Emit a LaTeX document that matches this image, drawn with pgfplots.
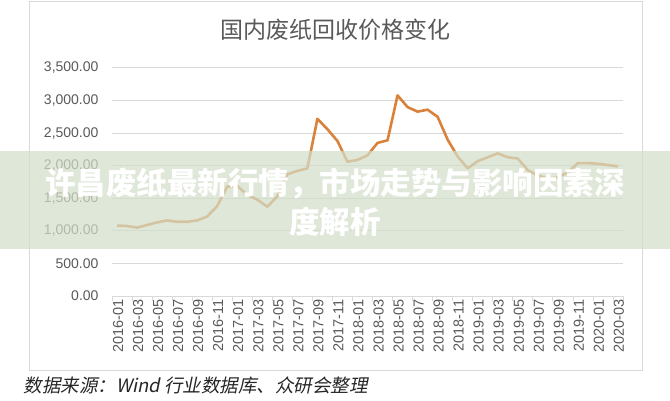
\documentclass[border=0pt]{standalone}
\usepackage{pgfplots}
\pgfplotsset{compat=1.18}
\usepackage{pgfplotstable}
\usepackage{fontspec}
\setmainfont{Liberation Sans}
\newfontfamily\cjk{Noto Sans CJK SC}
\newfontfamily\cjkit{Noto Sans CJK SC}[FakeSlant=0.2]

\definecolor{lineorange}{HTML}{D9823B}
\definecolor{gridgray}{HTML}{D9D9D9}
\definecolor{labelgray}{HTML}{595959}
\definecolor{bannergreen}{HTML}{D3DECA}

% month index (0 = 2016-01), price
\pgfplotstableread{
idx val
0 1080
1 1075
2 1050
3 1090
4 1130
5 1160
6 1140
7 1140
8 1160
9 1220
10 1380
11 1680
12 1690
13 1550
14 1480
15 1370
16 1530
17 1870
18 1920
19 1960
20 2720
21 2560
22 2380
23 2060
24 2090
25 2160
26 2350
27 2390
28 3080
29 2900
30 2830
31 2860
32 2750
33 2400
34 2140
35 1960
36 2070
37 2130
38 2190
39 2130
40 2110
41 1930
42 1850
43 1800
44 1820
45 1900
46 2040
47 2040
48 2030
49 2010
50 1990
}\pricedata

\begin{document}
\begin{tikzpicture}[x=1pt,y=1pt]
\path[use as bounding box] (0,0) rectangle (670,400);
\draw[gridgray, line width=1] (29,30) rectangle (642,398);
\node[font=\cjk\fontsize{23}{23}\selectfont, text=labelgray] at (335.5,370) {国内废纸回收价格变化};

\begin{axis}[
    at={(112pt,104pt)}, anchor=south west,
    scale only axis,
    width=511pt, height=228pt,
    xmin=-0.5, xmax=50.5,
    ymin=0, ymax=3500,
    axis x line*=bottom, axis y line*=left,
    y axis line style={draw=none},
    x axis line style={gridgray, line width=1},
    ytick={0,500,...,3500},
    ymajorgrids,
    grid style={gridgray, line width=1},
    xtick={0,2,...,50},
    xticklabels={2016-01,2016-03,2016-05,2016-07,2016-09,2016-11,
        2017-01,2017-03,2017-05,2017-07,2017-09,2017-11,
        2018-01,2018-03,2018-05,2018-07,2018-09,2018-11,
        2019-01,2019-03,2019-05,2019-07,2019-09,2019-11,
        2020-01,2020-03},
    minor xtick={-0.5,1.5,...,49.5,50.5},
    major tick length=0pt,
    minor tick length=5pt,
    tick align=outside,
    every tick/.style={gridgray, line width=0.8},
    tick label style={text=labelgray},
    x tick label style={rotate=90, anchor=east, yshift=-1pt,
        font=\fontsize{14.5}{14.5}\selectfont},
    y tick label style={xshift=-10pt, font=\fontsize{14}{14}\selectfont},
    yticklabel style={/pgf/number format/.cd, fixed, fixed zerofill,
        precision=2, 1000 sep={,}, assume math mode=true},
]
\addplot[lineorange, line width=2.6pt, line join=round] table[x=idx, y=val] {\pricedata};
\end{axis}

\fill[bannergreen, opacity=0.72] (0,151) rectangle (670,249);
\node[font=\cjk\bfseries\fontsize{30.5}{30.5}\selectfont, text=white] at (335,216) {许昌废纸最新行情，市场走势与影响因素深};
\node[font=\cjk\bfseries\fontsize{30.5}{30.5}\selectfont, text=white] at (335,178) {度解析};

\node[anchor=west, font=\fontsize{18.5}{18.5}\selectfont, text=black!85] at (20,15)
    {\cjkit 数据来源：\itshape Wind \cjkit 行业数据库、众研会整理};
\end{tikzpicture}
\end{document}
